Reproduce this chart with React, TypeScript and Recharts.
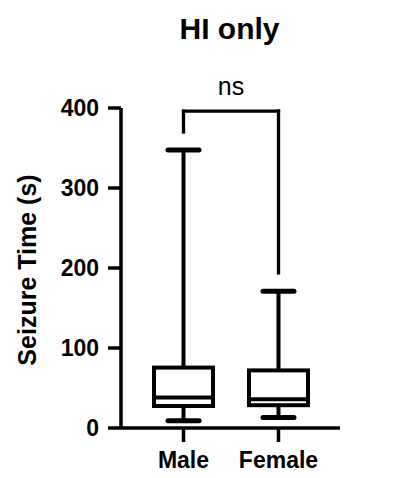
import React from 'react';
import { ComposedChart, Bar, XAxis, YAxis, ReferenceLine } from 'recharts';

const categories = ['Male', 'Female'];
const mins = [9, 13];
const q1s = [27.5, 28.5];
const medians = [38, 36];
const q3s = [75.5, 72];
const maxs = [347.5, 171];
const yTicks = [0, 100, 200, 300, 400];
const title = 'HI only';
const yLabel = 'Seizure Time (s)';
const sigLabel = 'ns';
const bracketTop = 396;
const bracketLegs = [370, 194];

const data = categories.map((name, i) => ({
  name,
  min: mins[i],
  q1: q1s[i],
  median: medians[i],
  q3: q3s[i],
  max: maxs[i],
  range: [mins[i], maxs[i]],
}));

const FONT = '"Liberation Sans", Arial, sans-serif';

const BoxShape = (props: any) => {
  const { x, y, width, height, payload } = props;
  const { min, max, q1, median, q3 } = payload;
  const py = (v: number) => y + ((max - v) * height) / (max - min);
  const cx = x + width / 2;
  const capW = 36;
  const yQ1 = py(q1);
  const yQ3 = py(q3);
  const yMed = py(median);
  const yMax = py(max);
  const yMin = py(min);
  return (
    <g>
      <line x1={cx} x2={cx} y1={yMax} y2={yQ3} stroke="#000" strokeWidth={4} />
      <line x1={cx} x2={cx} y1={yQ1} y2={yMin} stroke="#000" strokeWidth={4} />
      <line x1={cx - capW / 2 + 2.5} x2={cx + capW / 2 - 2.5} y1={yMax} y2={yMax} stroke="#000" strokeWidth={5} strokeLinecap="round" />
      <line x1={cx - capW / 2 + 2.5} x2={cx + capW / 2 - 2.5} y1={yMin} y2={yMin} stroke="#000" strokeWidth={5} strokeLinecap="round" />
      <rect x={x} y={yQ3} width={width} height={yQ1 - yQ3} fill="#fff" stroke="#000" strokeWidth={4} />
      <line x1={x} x2={x + width} y1={yMed} y2={yMed} stroke="#000" strokeWidth={4} />
    </g>
  );
};

const YLabel = (props: any) => {
  const vb = props.viewBox || { x: 0, y: 108, width: 121, height: 320 };
  const cx = 36;
  const cy = vb.y + vb.height / 2 + 2;
  return (
    <text
      x={cx}
      y={cy}
      transform={`rotate(-90, ${cx}, ${cy})`}
      textAnchor="middle"
      fontFamily={FONT}
      fontWeight="bold"
      fontSize={25}
      fill="#000"
    >
      {yLabel}
    </text>
  );
};

const tickStyle = { fontFamily: FONT, fontWeight: 'bold', fontSize: 23, fill: '#000' };
const lineStyle = { stroke: '#000', strokeWidth: 3.5 };

export default function App() {
  return (
    <div style={{ position: 'absolute', left: 0, top: 0, width: 397, height: 478, background: '#fff' }}>
      <div
        style={{
          position: 'absolute',
          left: 129.5,
          top: 14,
          width: 200,
          textAlign: 'center',
          fontFamily: FONT,
          fontWeight: 'bold',
          fontSize: 30,
          lineHeight: '30px',
          color: '#000',
        }}
      >
        {title}
      </div>
      <ComposedChart
        width={397}
        height={478}
        data={data}
        margin={{ top: 108, right: 57, bottom: 0, left: 0 }}
        style={{ position: 'absolute', left: 0, top: 0 }}
      >
        <XAxis
          dataKey="name"
          type="category"
          height={50}
          padding={{ left: 15, right: 14 }}
          tickSize={14}
          tickMargin={10}
          tick={tickStyle}
          tickLine={lineStyle}
          axisLine={lineStyle}
        />
        <YAxis
          type="number"
          domain={[0, 400]}
          ticks={yTicks}
          width={121}
          tickSize={13}
          tickMargin={9}
          tick={tickStyle}
          tickLine={lineStyle}
          axisLine={lineStyle}
          label={<YLabel />}
        />
        <Bar dataKey="range" barSize={59} shape={<BoxShape />} isAnimationActive={false} />
        <ReferenceLine
          segment={[{ x: categories[0], y: bracketTop }, { x: categories[1], y: bracketTop }]}
          stroke="#000"
          strokeWidth={3.3}
          strokeLinecap="square"
          label={{ value: sigLabel, position: 'top', offset: 16, fontSize: 25, fontFamily: FONT, fill: '#000' }}
        />
        <ReferenceLine
          segment={[{ x: categories[0], y: bracketTop }, { x: categories[0], y: bracketLegs[0] }]}
          stroke="#000"
          strokeWidth={3.3}
          strokeLinecap="square"
        />
        <ReferenceLine
          segment={[{ x: categories[1], y: bracketTop }, { x: categories[1], y: bracketLegs[1] }]}
          stroke="#000"
          strokeWidth={3.3}
          strokeLinecap="square"
        />
      </ComposedChart>
    </div>
  );
}
